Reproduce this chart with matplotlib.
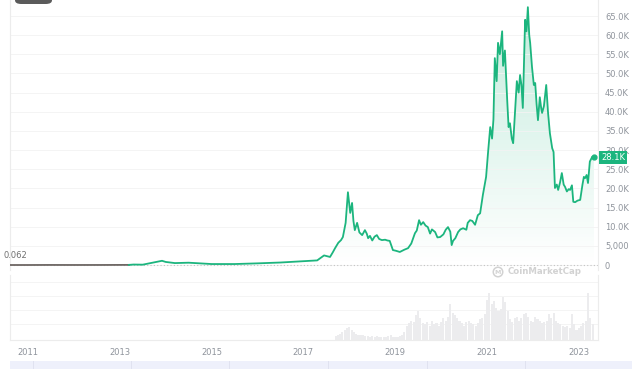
import numpy as np
import matplotlib
matplotlib.use("Agg")
import matplotlib.pyplot as plt
from matplotlib.colors import LinearSegmentedColormap
from matplotlib.patches import Rectangle, FancyBboxPatch

# price history, decimal years / USD
years = [2010.62, 2011.0, 2011.45, 2012.0, 2012.6, 2013.2, 2013.3, 2013.5, 2013.92,
         2014.0, 2014.2, 2014.5, 2015.0, 2015.5, 2016.0, 2016.5, 2017.0, 2017.3,
         2017.45, 2017.58, 2017.64, 2017.69, 2017.76, 2017.82, 2017.86, 2017.92,
         2017.97, 2018.02, 2018.06, 2018.09, 2018.12, 2018.17, 2018.22, 2018.28,
         2018.34, 2018.38, 2018.41, 2018.45, 2018.50, 2018.55, 2018.60, 2018.65,
         2018.71, 2018.78, 2018.83, 2018.88, 2018.95, 2019.02, 2019.10, 2019.20,
         2019.28, 2019.35, 2019.43, 2019.47, 2019.52, 2019.56, 2019.61, 2019.66,
         2019.71, 2019.76, 2019.80, 2019.87, 2019.92, 2019.98, 2020.05, 2020.10,
         2020.15, 2020.20, 2020.23, 2020.26, 2020.31, 2020.37, 2020.42, 2020.48,
         2020.55, 2020.58, 2020.63, 2020.68, 2020.74, 2020.80, 2020.85, 2020.91,
         2020.98, 2021.02, 2021.07, 2021.11, 2021.14, 2021.17, 2021.21, 2021.24,
         2021.28, 2021.33, 2021.35, 2021.39, 2021.44, 2021.47, 2021.50, 2021.54,
         2021.57, 2021.61, 2021.65, 2021.69, 2021.72, 2021.75, 2021.78, 2021.83,
         2021.86, 2021.89, 2021.92, 2021.94, 2021.98, 2022.02, 2022.05, 2022.08,
         2022.11, 2022.15, 2022.18, 2022.20, 2022.24, 2022.29, 2022.33, 2022.37,
         2022.42, 2022.45, 2022.48, 2022.52, 2022.55, 2022.59, 2022.63, 2022.67,
         2022.70, 2022.74, 2022.78, 2022.81, 2022.85, 2022.88, 2022.92, 2022.97,
         2023.03, 2023.08, 2023.11, 2023.14, 2023.17, 2023.20, 2023.24, 2023.29,
         2023.33]
prices = [0.062, 0.3, 15, 5, 10, 30, 120, 90, 1100,
          800, 500, 600, 250, 250, 430, 650, 1000, 1200,
          2500, 2100, 3300, 4400, 5800, 6500, 7300, 11000,
          19000, 13600, 16200, 11500, 9100, 11000, 8500, 7800,
          9100, 8200, 7000, 7600, 6400, 7400, 7800, 6800,
          6500, 6600, 6400, 6300, 3900, 3700, 3400, 4000,
          4400, 5600, 8300, 9000, 11700, 10500, 11200, 10300,
          9900, 8200, 9300, 8600, 7200, 7300, 8000, 9200,
          9900, 8700, 5200, 6300, 7000, 8600, 9300, 9600,
          9200, 11000, 11700, 11500, 10500, 13000, 13500, 18300,
          23000, 29000, 36000, 33000, 38000, 54000, 48000, 58000,
          55000, 61000, 52000, 56000, 43000, 36000, 37000, 33000,
          31800, 40000, 48000, 45000, 49600, 47000, 41000, 64000,
          61000, 67300, 60000, 58000, 51700, 47000, 47500, 42000,
          37800, 43800, 41000, 39700, 41500, 47000, 39700, 34400,
          30500, 29500, 20100, 21000, 19600, 21500, 24000, 21000,
          20400, 19200, 19800, 19600, 20800, 16500, 16400, 16800,
          17000, 21000, 23000, 22700, 23500, 21400, 27000, 28200,
          28100]
split_year = 2013.2

# volume, relative units, every 0.05 year from 2017.70
vol_start = 2017.70
vol_step = 0.05
volumes = [6, 8, 10, 12, 16, 18, 20, 15, 12, 10, 8, 7, 8, 6, 6, 5, 6, 5, 6, 5,
           4, 4, 4, 6, 7, 5, 4, 5, 6, 8, 12, 22, 26, 30, 28, 38, 44, 34, 26, 24,
           28, 22, 30, 24, 26, 22, 28, 34, 30, 36, 56, 42, 38, 34, 30, 26, 22, 28,
           30, 26, 24, 22, 26, 32, 34, 40, 62, 72, 55, 60, 50, 44, 48, 66, 58, 44,
           32, 28, 34, 36, 30, 34, 40, 42, 36, 30, 28, 36, 32, 30, 26, 28, 30, 40,
           34, 42, 30, 26, 24, 22, 20, 22, 18, 40, 24, 16, 18, 22, 26, 30, 72, 34, 24]

tick_years = [2011, 2013, 2015, 2017, 2019, 2021, 2023]
price_ticks = list(range(0, 65001, 5000))
start_label = "0.062"
last_label = "28.1K"

green = "#1cb57e"
grey_txt = "#8f949c"
W, H = 640, 369


def rect(x0, y0, x1, y1):
    return [x0 / W, 1 - y1 / H, (x1 - x0) / W, (y1 - y0) / H]


fig = plt.figure(figsize=(6.4, 3.69), dpi=100)
fig.patch.set_facecolor("white")

axv = fig.add_axes(rect(10, 275, 598, 340))
ax = fig.add_axes(rect(10, 0, 598, 270))

x = np.array(years)
y = np.array(prices)
xmin, xmax = 2010.608, 2023.418

# gradient under the line
poly = ax.fill_between(x, y, 0, color="none", lw=0)
cmap = LinearSegmentedColormap.from_list(
    "g", [(0.11, 0.71, 0.49, 0.0), (0.11, 0.71, 0.49, 0.26)])
grad = np.linspace(0, 1, 256).reshape(-1, 1)
im = ax.imshow(grad, cmap=cmap, aspect="auto", origin="lower",
               extent=[xmin, xmax, 0, 67300], zorder=1)
im.set_clip_path(poly.get_paths()[0], transform=ax.transData)

early = x <= split_year
ax.plot(x[early], y[early], color="#6e6764", lw=1.3, zorder=3)
late = x >= split_year
ax.plot(x[late], y[late], color=green, lw=1.3, zorder=3, solid_joinstyle="round")
ax.plot(x[-1], y[-1], "o", color=green, ms=3.5, zorder=4)

ax.axhline(0, color="#c4c4c4", lw=0.8, ls=(0, (1, 2)), zorder=2)
ax.set_xlim(xmin, xmax)
ax.set_ylim(-1305, 69177)
ax.set_yticks(price_ticks)
ax.set_yticklabels(["0" if v == 0 else "5,000" if v == 5000 else f"{v/1000:.1f}K"
                    for v in price_ticks])
ax.yaxis.tick_right()
ax.tick_params(axis="y", length=0, pad=5, labelsize=6, labelcolor=grey_txt)
ax.set_xticks([])
ax.grid(axis="y", color="#f3f3f3", lw=0.6, zorder=0)
ax.patch.set_alpha(0)
for s in ["top", "bottom"]:
    ax.spines[s].set_visible(False)
for s in ["left", "right"]:
    ax.spines[s].set_color("#ececec")
    ax.spines[s].set_linewidth(0.8)

# last price tag
ax.text(1.005, (y[-1] + 1305) / (69177 + 1305), last_label, transform=ax.transAxes,
        ha="left", va="center", fontsize=6, color="white",
        bbox=dict(boxstyle="square,pad=0.25", fc=green, ec="none"), zorder=5)

# watermark
fig.text(508 / W, 1 - 272 / H, "CoinMarketCap", fontsize=6.2, color="#d2d2d2",
         fontweight="bold", ha="left", va="center", zorder=6)
fig.text(498 / W, 1 - 272 / H, "M", fontsize=4.5, color="#d2d2d2", ha="center",
         va="center", fontweight="bold", zorder=6,
         bbox=dict(boxstyle="circle,pad=0.25", fc="none", ec="#d2d2d2", lw=1.1))

# volume panel
vx = vol_start + vol_step * np.arange(len(volumes))
axv.bar(vx, volumes, width=vol_step * 0.9, color="#ececee", lw=0, align="center")
axv.set_xlim(xmin, xmax)
axv.set_ylim(0, 100)
axv.set_yticks([24, 46, 68, 90])
axv.set_yticklabels([])
axv.tick_params(axis="y", length=0)
axv.grid(axis="y", color="#f3f3f3", lw=0.6)
axv.set_axisbelow(True)
axv.set_xticks(tick_years)
axv.set_xticklabels([str(t) for t in tick_years])
axv.tick_params(axis="x", length=0, pad=6, labelsize=6, labelcolor=grey_txt)
axv.spines["top"].set_visible(False)
for s in ["left", "right", "bottom"]:
    axv.spines[s].set_color("#ececec")
    axv.spines[s].set_linewidth(0.8)

# start value label
fig.text(3 / W, 1 - 255 / H, start_label, fontsize=6, color="#707070",
         ha="left", va="center")

# top-left button and bottom navigator strip
fig.patches.append(FancyBboxPatch((15 / W, 1 - 4 / H), 37 / W, 10 / H,
                                  boxstyle="round,pad=0,rounding_size=0.01",
                                  transform=fig.transFigure, fc="#5b5b5b", ec="none"))
fig.patches.append(Rectangle((10 / W, 0), 622 / W, 8 / H, transform=fig.transFigure,
                             fc="#eef0fb", ec="none"))
for px in [33, 131, 229, 328, 427, 525]:
    fig.patches.append(Rectangle((px / W, 0), 0.6 / W, 8 / H,
                                 transform=fig.transFigure, fc="#e0e2f0", ec="none"))

fig.savefig("out.png", dpi=100)
